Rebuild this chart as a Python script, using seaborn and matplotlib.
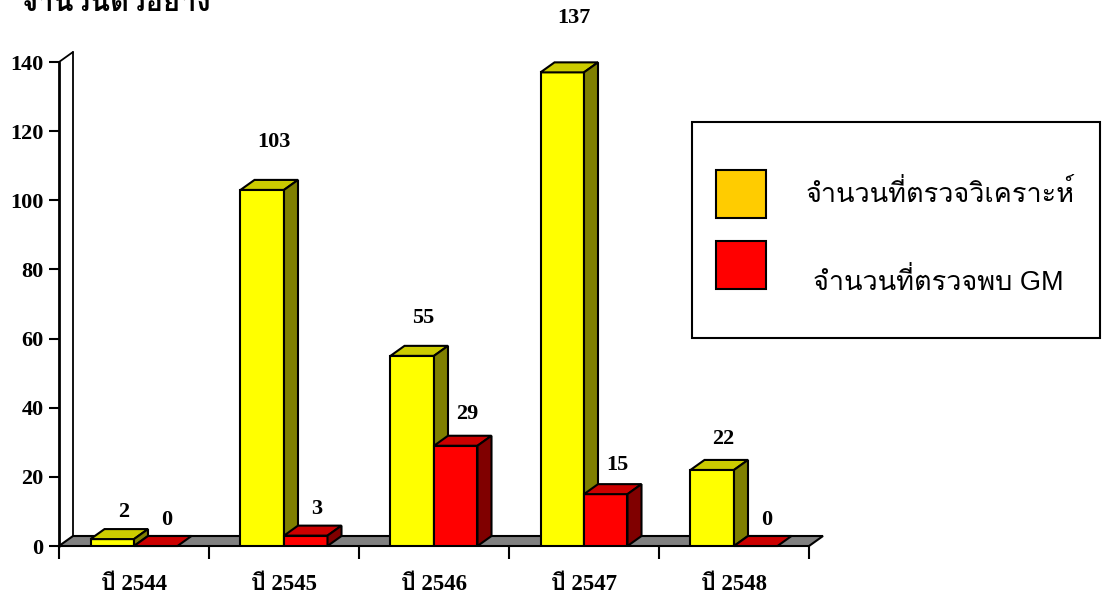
import numpy as np
import pandas as pd
import seaborn as sns
import matplotlib
matplotlib.use("Agg")
import matplotlib.pyplot as plt
from matplotlib import font_manager
from matplotlib.ft2font import FT2Font
from matplotlib.patches import Polygon, Patch, Rectangle
from matplotlib.transforms import ScaledTranslation

# ---- data -------------------------------------------------------------
years = ["ปี 2544", "ปี 2545", "ปี 2546", "ปี 2547", "ปี 2548"]
analyzed = [2, 103, 55, 137, 22]
gm_found = [0, 3, 29, 15, 0]
series_names = ["จำนวนที่ตรวจวิเคราะห์", "จำนวนที่ตรวจพบ GM"]
y_ticks = [0, 20, 40, 60, 80, 100, 120, 140]
title_text = "จำนวนตัวอย่าง"

# ---- fonts: find families that cover Thai -----------------------------
def thai_families():
    found = []
    for f in font_manager.fontManager.ttflist:
        try:
            cmap = FT2Font(f.fname).get_charmap()
        except Exception:
            continue
        if 0x0E08 in cmap and f.name not in found:
            found.append(f.name)
    return found

thai = thai_families()
SERIF = ["Liberation Serif"] + thai + ["DejaVu Serif"]
SANS = ["Liberation Sans"] + thai + ["DejaVu Sans"]

sns.set_theme(style="white")
plt.rcParams["font.family"] = SERIF
for key in ("text.color", "axes.labelcolor", "xtick.color", "ytick.color"):
    plt.rcParams[key] = "black"

# ---- colours ----------------------------------------------------------
front = ["#FFFF00", "#FF0000"]
top = ["#CCCC00", "#CC0000"]
side = ["#808000", "#800000"]
legend_fill = ["#FFCC00", "#FF0000"]

df = pd.DataFrame({
    "year": years * 2,
    "count": analyzed + gm_found,
    "series": [series_names[0]] * len(years) + [series_names[1]] * len(years),
})

W, H = 1103, 599
fig = plt.figure(figsize=(W / 100, H / 100), dpi=100)
ax = fig.add_axes([59 / W, 53 / H, 750 / W, 484 / H])

sns.barplot(data=df, x="year", y="count", hue="series", palette=front,
            saturation=1, width=0.58, edgecolor="black", linewidth=1.5,
            legend=False, ax=ax, zorder=2)
ax.set_xlim(-0.5, len(years) - 0.5)
ax.set_ylim(0, 140)

# depth of the pseudo-3D extrusion in data units
DX = 14 / 150
DY = 10 / (484 / 140)

# floor
floor = Polygon([(-0.5, 0), (len(years) - 0.5, 0),
                 (len(years) - 0.5 + DX, DY), (-0.5 + DX, DY)],
                closed=True, facecolor="#808080", edgecolor="black",
                linewidth=1.5, zorder=1, clip_on=False)
ax.add_patch(floor)

# side wall
ax.plot([-0.5, -0.5], [0, 140], color="black", lw=2, clip_on=False, zorder=1)
ax.plot([-0.5 + DX, -0.5 + DX], [DY, 140 + DY], color="black", lw=1.3,
        clip_on=False, zorder=1)
ax.plot([-0.5, -0.5 + DX], [140, 140 + DY], color="black", lw=1.3,
        clip_on=False, zorder=1)

# top and side faces, plus value labels
for s, cont in enumerate(ax.containers):
    z = 2 + s
    for bar in cont:
        bar.set_zorder(z)
        x0 = bar.get_x()
        x1 = x0 + bar.get_width()
        h = bar.get_height()
        ax.add_patch(Polygon([(x0, h), (x1, h), (x1 + DX, h + DY), (x0 + DX, h + DY)],
                             closed=True, facecolor=top[s], edgecolor="black",
                             linewidth=1.5, zorder=z, clip_on=False))
        if h > 0:
            ax.add_patch(Polygon([(x1, 0), (x1 + DX, DY), (x1 + DX, h + DY), (x1, h)],
                                 closed=True, facecolor=side[s], edgecolor="black",
                                 linewidth=1.5, zorder=z, clip_on=False))
        ax.text((x0 + x1) / 2 + DX * 0.8, h * 1.06 + DY + 1.8, f"{int(h)}",
                ha="center", va="bottom", fontsize=16, fontweight="bold",
                family=SERIF, color="black", clip_on=False, zorder=6)

# axes decoration
for sp in ax.spines.values():
    sp.set_visible(False)
ax.set_xlabel("")
ax.set_ylabel("")
ax.set_yticks(y_ticks)
ax.set_yticklabels([str(v) for v in y_ticks], fontsize=16, fontweight="bold",
                   family=SERIF)
ax.tick_params(axis="y", direction="out", length=7, width=1.5, pad=4,
               left=True, color="black", labelcolor="black")
ax.set_xticks(range(len(years)))
ax.set_xticklabels(years, fontsize=16.5, fontweight="bold", family=SERIF)
ax.set_xticks(np.arange(-0.5, len(years)), minor=True)
ax.tick_params(axis="x", which="major", length=0, pad=20, labelcolor="black")
ax.tick_params(axis="x", which="minor", direction="out", length=9, width=1.5,
               bottom=True, color="black")
ax.grid(False)

# title, partly above the top edge
fig.text(20 / W, 1 - 11 / H, title_text, fontsize=21, fontweight="bold",
         family=SERIF, ha="left", va="baseline", color="black")

# legend
fig.add_artist(Rectangle((692 / W, 1 - 338 / H), 408 / W, 216 / H,
                         transform=fig.transFigure, facecolor="white",
                         edgecolor="black", linewidth=1.5, zorder=5))
handles = [Patch(facecolor=legend_fill[i], edgecolor="black", linewidth=1.5)
           for i in range(2)]
leg = fig.legend(handles, series_names, loc="upper left",
                 bbox_to_anchor=(716 / W, 1 - 170 / H), frameon=False,
                 prop=font_manager.FontProperties(family=SANS, size=19.5),
                 handlelength=1.83, handleheight=2.36, handletextpad=1.48,
                 labelspacing=0.85, borderpad=0, borderaxespad=0)
leg.set_zorder(6)
for t in leg.get_texts():
    t.set_color("black")
# second entry sits a little lower and further right
t2 = leg.get_texts()[1]
t2.set_transform(t2.get_transform() +
                 ScaledTranslation(0.07, -0.16, fig.dpi_scale_trans))

fig.savefig("out.png", dpi=100)
